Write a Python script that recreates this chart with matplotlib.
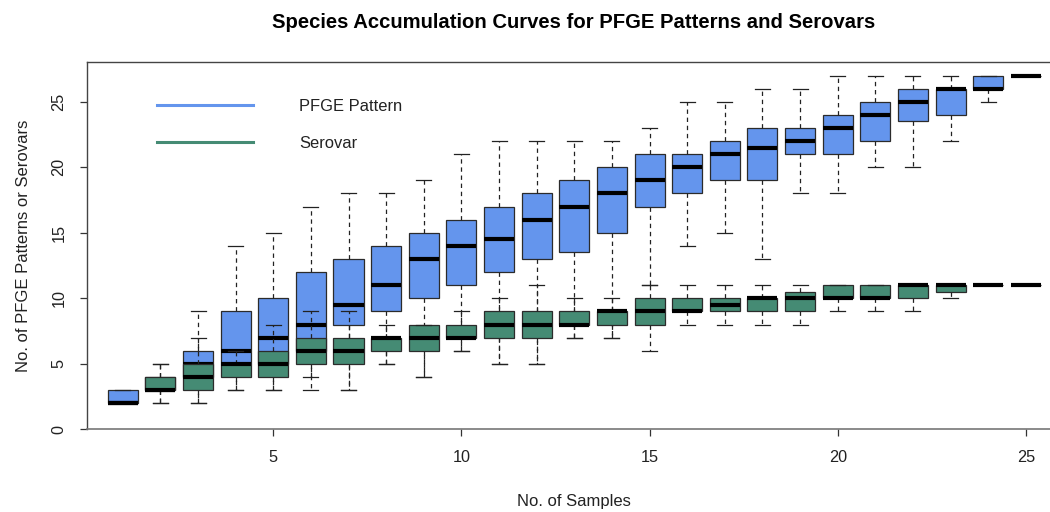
import matplotlib
matplotlib.use("Agg")
import matplotlib.pyplot as plt
from matplotlib.lines import Line2D

plt.rcParams['font.family'] = ['Liberation Sans', 'DejaVu Sans']

# Number of samples drawn (x positions)
samples = list(range(1, 26))

# PFGE pattern counts per sample size: lower whisker, Q1, median, Q3, upper whisker
pfge_lo  = [2, 2, 2, 3, 3, 3, 3, 5, 4, 6, 5, 5, 7, 7, 11, 14, 15, 13, 18, 18, 20, 20, 22, 25, 27]
pfge_q1  = [2, 3, 4, 5, 5, 6, 8, 9, 10, 11, 12, 13, 13.5, 15, 17, 18, 19, 19, 21, 21, 22, 23.5, 24, 26, 27]
pfge_med = [2, 3, 5, 6, 7, 8, 9.5, 11, 13, 14, 14.5, 16, 17, 18, 19, 20, 21, 21.5, 22, 23, 24, 25, 26, 26, 27]
pfge_q3  = [3, 4, 6, 9, 10, 12, 13, 14, 15, 16, 17, 18, 19, 20, 21, 21, 22, 23, 23, 24, 25, 26, 26, 27, 27]
pfge_hi  = [3, 5, 9, 14, 15, 17, 18, 18, 19, 21, 22, 22, 22, 22, 23, 25, 25, 26, 26, 27, 27, 27, 27, 27, 27]

# Serovar counts per sample size
sero_lo  = [2, 2, 2, 3, 3, 4, 3, 5, 4, 6, 5, 5, 7, 7, 6, 8, 8, 8, 8, 9, 9, 9, 10, 11, 11]
sero_q1  = [2, 3, 3, 4, 4, 5, 5, 6, 6, 7, 7, 7, 8, 8, 8, 9, 9, 9, 9, 10, 10, 10, 10.5, 11, 11]
sero_med = [2, 3, 4, 5, 5, 6, 6, 7, 7, 7, 8, 8, 8, 9, 9, 9, 9.5, 10, 10, 10, 10, 11, 11, 11, 11]
sero_q3  = [2, 4, 5, 5, 6, 7, 7, 7, 8, 8, 9, 9, 9, 9, 10, 10, 10, 10, 10.5, 11, 11, 11, 11, 11, 11]
sero_hi  = [2, 5, 7, 6, 8, 9, 9, 8, 8, 9, 10, 11, 10, 10, 11, 11, 11, 11, 11, 11, 11, 11, 11, 11, 11]

y_ticks = [0, 5, 10, 15, 20, 25]
x_ticks = [5, 10, 15, 20, 25]

series_labels = ["PFGE Pattern", "Serovar"]
blue = "#6495ED"
green = "#458B74"


def make_stats(lo, q1, med, q3, hi):
    return [dict(whislo=a, q1=b, med=c, q3=d, whishi=e, fliers=[])
            for a, b, c, d, e in zip(lo, q1, med, q3, hi)]


fig = plt.figure(figsize=(10.5, 5.12), dpi=100)
ax = fig.add_axes([0.0831, 0.1615, 0.9265, 0.718])


def draw(stats, color, z):
    ax.bxp(stats, positions=samples, widths=0.8, capwidths=0.4,
           patch_artist=True, showfliers=False, manage_ticks=False,
           boxprops=dict(facecolor=color, edgecolor="#2b2b2b", linewidth=0.9),
           medianprops=dict(color="black", linewidth=3.0, solid_capstyle="butt"),
           whiskerprops=dict(color="#222222", linewidth=0.9, linestyle=(0, (3.5, 3))),
           capprops=dict(color="#222222", linewidth=0.9),
           zorder=z)


draw(make_stats(pfge_lo, pfge_q1, pfge_med, pfge_q3, pfge_hi), blue, 2)
draw(make_stats(sero_lo, sero_q1, sero_med, sero_q3, sero_hi), green, 3)

ax.set_xlim(0.056, 25.91)
ax.set_ylim(0, 28.06)

ax.set_xticks(x_ticks)
ax.set_xticklabels([str(v) for v in x_ticks])
ax.set_yticks(y_ticks)
ax.set_yticklabels([str(v) for v in y_ticks], rotation=90, va="center")

ax.tick_params(axis="both", direction="out", length=5, width=0.9,
               color="#333333", labelsize=11.7, labelcolor="#222222")
ax.tick_params(axis="x", pad=10)
ax.tick_params(axis="y", pad=10)

for side in ("left", "top"):
    ax.spines[side].set_color("#444444")
    ax.spines[side].set_linewidth(1.0)
ax.spines["bottom"].set_color("#777777")
ax.spines["bottom"].set_linewidth(1.2)
ax.spines["right"].set_visible(False)

ax.set_xlabel("No. of Samples", fontsize=12, color="#222222", labelpad=21)
ax.set_ylabel("No. of PFGE Patterns or Serovars", fontsize=12, color="#222222", labelpad=15)
ax.set_title("Species Accumulation Curves for PFGE Patterns and Serovars",
             fontsize=14.6, fontweight="bold", pad=24)

handles = [Line2D([0], [0], color=blue, linewidth=2.2),
           Line2D([0], [0], color=green, linewidth=2.2)]
fig.legend(handles, series_labels, loc="center left",
           bbox_to_anchor=(157 / 1050, 1 - 125 / 512), frameon=False,
           fontsize=11.9, handlelength=5.8, handletextpad=2.8,
           labelspacing=1.3, borderpad=0, borderaxespad=0,
           labelcolor="#222222")

fig.savefig("out.png", dpi=100)
